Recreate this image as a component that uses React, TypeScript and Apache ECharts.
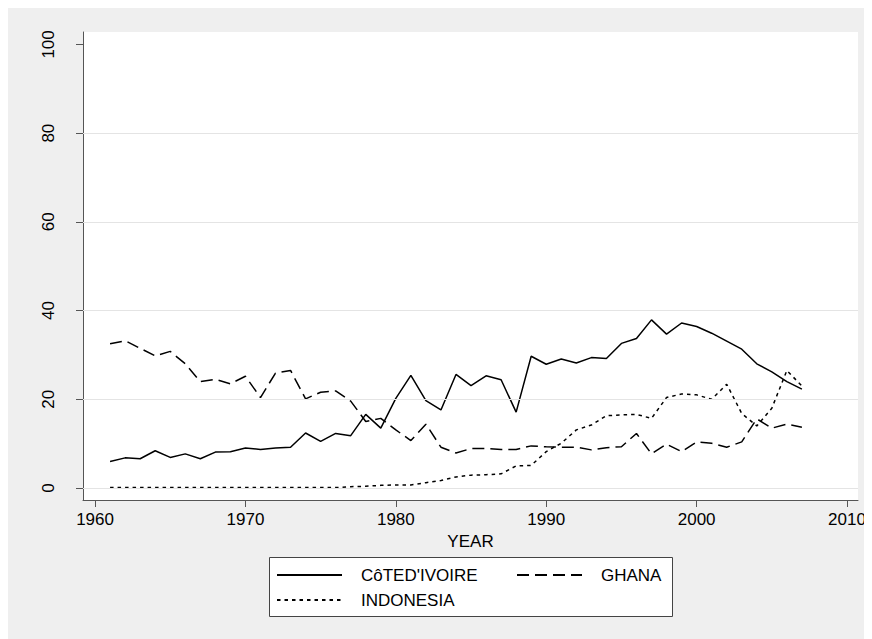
import React, { useEffect, useRef } from "react";
import * as echarts from "echarts";

const years = [
  1961, 1962, 1963, 1964, 1965, 1966, 1967, 1968, 1969, 1970,
  1971, 1972, 1973, 1974, 1975, 1976, 1977, 1978, 1979, 1980,
  1981, 1982, 1983, 1984, 1985, 1986, 1987, 1988, 1989, 1990,
  1991, 1992, 1993, 1994, 1995, 1996, 1997, 1998, 1999, 2000,
  2001, 2002, 2003, 2004, 2005, 2006, 2007,
];

const coteDIvoire = [
  6.0, 6.8, 6.6, 8.4, 6.9, 7.7, 6.6, 8.1, 8.2, 9.0,
  8.7, 9.0, 9.2, 12.4, 10.5, 12.3, 11.8, 16.6, 13.5, 20.2,
  25.4, 19.7, 17.6, 25.6, 23.1, 25.3, 24.4, 17.1, 29.7, 27.9,
  29.1, 28.2, 29.4, 29.2, 32.6, 33.7, 37.9, 34.7, 37.2, 36.4,
  34.9, 33.1, 31.3, 28.0, 26.2, 24.0, 22.3,
];

const ghana = [
  32.5, 33.2, 31.5, 29.8, 30.8, 28.0, 24.0, 24.5, 23.5, 25.2,
  20.4, 25.9, 26.5, 20.1, 21.6, 21.9, 19.6, 15.0, 15.7, 13.1,
  10.7, 14.4, 9.2, 7.9, 8.9, 8.9, 8.7, 8.7, 9.5, 9.3,
  9.2, 9.2, 8.6, 9.1, 9.3, 12.3, 7.7, 9.9, 8.2, 10.4,
  10.1, 9.2, 10.4, 15.6, 13.5, 14.4, 13.7,
];

const indonesia = [
  0.1, 0.1, 0.1, 0.1, 0.1, 0.1, 0.1, 0.1, 0.1, 0.1,
  0.1, 0.1, 0.1, 0.1, 0.1, 0.1, 0.3, 0.4, 0.6, 0.7,
  0.7, 1.2, 1.7, 2.5, 2.9, 3.0, 3.2, 5.0, 5.1, 8.2,
  10.1, 13.1, 14.2, 16.3, 16.5, 16.6, 15.7, 20.4, 21.2, 21.0,
  20.0, 23.4, 16.8, 14.0, 18.0, 26.5, 23.0,
];

const xTicks = [1960, 1970, 1980, 1990, 2000, 2010];
const yTicks = [0, 20, 40, 60, 80, 100];
const gridValues = [0, 20, 40, 60, 80];

const seriesNames = ["CôTED'IVOIRE", "GHANA", "INDONESIA"];

export default function App() {
  const ref = useRef<HTMLDivElement>(null);

  useEffect(() => {
    document.documentElement.style.overflow = "hidden";
    document.body.style.overflow = "hidden";
    if (!ref.current) return;
    const chart = echarts.init(ref.current, null, { renderer: "svg" });
    const font = '"Liberation Sans", Arial, sans-serif';
    const axisColor = "#555555";
    const legendBase = {
      orient: "horizontal",
      itemWidth: 65,
      itemHeight: 18,
      itemGap: 0,
      padding: 0,
      selectedMode: false,
      itemStyle: { opacity: 0, borderWidth: 0 },
      textStyle: {
        fontSize: 17,
        color: "#000",
        fontFamily: font,
        lineHeight: 18,
        padding: [0, 0, 0, 14],
      },
      z: 10,
    };
    const mk = (name: string, vals: number[], type: any) => ({
      name,
      type: "line",
      data: years.map((y, i) => [y, vals[i]]),
      symbol: "none",
      showSymbol: false,
      silent: true,
      z: 3,
      itemStyle: { color: "#000" },
      lineStyle: { color: "#000", width: 1.5, type },
      emphasis: { disabled: true },
    });
    chart.setOption({
      animation: false,
      backgroundColor: "#efefef",
      textStyle: { fontFamily: font },
      grid: {
        left: 75,
        right: 14,
        top: 24,
        bottom: 139,
        show: true,
        backgroundColor: "#ffffff",
        borderWidth: 0,
      },
      xAxis: {
        type: "value",
        min: 1959.2,
        max: 2010.73,
        name: "YEAR",
        nameLocation: "middle",
        nameGap: 30,
        nameTextStyle: { fontSize: 17, color: "#000", fontFamily: font },
        axisLine: { show: true, onZero: false, lineStyle: { color: axisColor, width: 1 } },
        axisTick: { show: true, length: 7, customValues: xTicks, lineStyle: { color: axisColor, width: 1 } },
        axisLabel: {
          customValues: xTicks,
          fontSize: 17,
          color: "#000",
          margin: 11,
          fontFamily: font,
          formatter: (v: number) => String(v),
        },
        splitLine: { show: false },
      },
      yAxis: {
        type: "value",
        min: -2.7,
        max: 102.8,
        axisLine: { show: true, onZero: false, lineStyle: { color: axisColor, width: 1 } },
        axisTick: { show: true, length: 7, customValues: yTicks, lineStyle: { color: axisColor, width: 1 } },
        axisLabel: {
          customValues: yTicks,
          rotate: 90,
          fontSize: 17,
          color: "#000",
          margin: 26,
          fontFamily: font,
          formatter: (v: number) => String(v),
        },
        splitLine: { show: false },
      },
      legend: [
        { ...legendBase, data: [seriesNames[0]], left: 268, top: 558 },
        { ...legendBase, data: [seriesNames[1]], left: 508, top: 558 },
        { ...legendBase, data: [seriesNames[2]], left: 268, top: 583 },
      ],
      graphic: [
        {
          type: "rect",
          shape: { x: 261.5, y: 549.5, width: 403, height: 59 },
          style: { fill: "#ffffff", stroke: "#444444", lineWidth: 1 },
          z: 1,
          silent: true,
        },
      ],
      series: [
        {
          name: "grid",
          type: "line",
          data: [],
          silent: true,
          z: 1,
          markLine: {
            silent: true,
            symbol: ["none", "none"],
            label: { show: false },
            lineStyle: { color: "#e4e4e4", type: "solid", width: 1 },
            emphasis: { disabled: true },
            data: gridValues.map((v) => ({ yAxis: v })),
          },
        },
        mk(seriesNames[0], coteDIvoire, "solid"),
        mk(seriesNames[1], ghana, [12, 6]),
        mk(seriesNames[2], indonesia, [3.5, 4]),
      ],
    });
    return () => chart.dispose();
  }, []);

  return <div ref={ref} style={{ width: 864, height: 631 }} />;
}
